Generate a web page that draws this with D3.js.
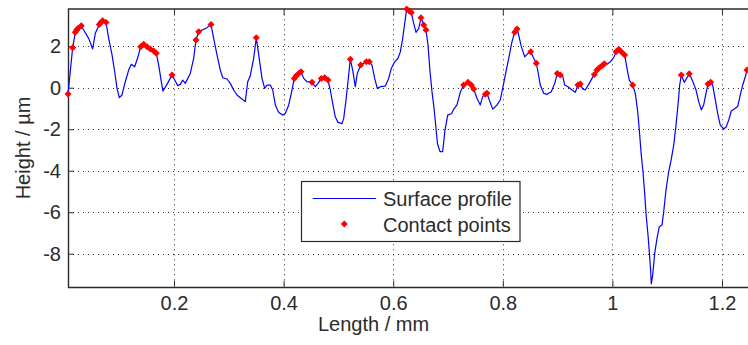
<!DOCTYPE html>
<html><head><meta charset="utf-8">
<script src="https://cdn.jsdelivr.net/npm/d3@7"></script>
<style>
body{margin:0;background:#fff}
svg{display:block}
text{font-family:"Liberation Sans",Arial,Helvetica,sans-serif;fill:#2b2b2b}
</style>
</head><body><svg id="c" width="748" height="345"></svg>
<script>
// ---- data (Length in mm, Height in µm) ----
const profileX = [0.0066,0.0151,0.0199,0.0248,0.0308,0.0352,0.0443,0.0516,0.0564,0.0637,0.0699,0.0759,0.0808,0.0869,0.0918,0.0960,0.1002,0.1051,0.1111,0.1173,
0.1221,0.1283,0.1343,0.1392,0.1447,0.1507,0.1568,0.1630,0.1677,0.1721,0.1768,0.1799,0.1872,0.1964,0.2013,0.2068,0.2115,0.2159,0.2206,0.2297,
0.2359,0.2401,0.2451,0.2511,0.2584,0.2675,0.2724,0.2785,0.2845,0.2889,0.2967,0.3027,0.3089,0.3150,0.3210,0.3301,0.3345,0.3392,0.3454,0.3502,
0.3546,0.3606,0.3655,0.3697,0.3757,0.3801,0.3849,0.3911,0.3984,0.4031,0.4093,0.4141,0.4195,0.4232,0.4276,0.4318,0.4367,0.4427,0.4518,0.4578,
0.4628,0.4688,0.4750,0.4810,0.4852,0.4901,0.4943,0.4993,0.5066,0.5097,0.5139,0.5175,0.5217,0.5261,0.5308,0.5345,0.5407,0.5462,0.5509,0.5564,
0.5613,0.5662,0.5710,0.5765,0.5856,0.5918,0.5965,0.6027,0.6088,0.6130,0.6173,0.6210,0.6246,0.6294,0.6330,0.6374,0.6416,0.6466,0.6507,0.6557,
0.6599,0.6635,0.6672,0.6708,0.6745,0.6772,0.6808,0.6854,0.6903,0.6945,0.6995,0.7068,0.7097,0.7164,0.7224,0.7286,0.7365,0.7425,0.7469,0.7529,
0.7589,0.7633,0.7681,0.7712,0.7754,0.7816,0.7894,0.7954,0.8004,0.8046,0.8108,0.8168,0.8217,0.8259,0.8290,0.8338,0.8400,0.8460,0.8509,0.8564,
0.8611,0.8642,0.8684,0.8746,0.8807,0.8885,0.8947,0.8995,0.9049,0.9093,0.9130,0.9190,0.9263,0.9323,0.9372,0.9414,0.9458,0.9505,0.9567,0.9628,
0.9670,0.9719,0.9761,0.9810,0.9852,0.9901,0.9962,1.0024,1.0066,1.0115,1.0162,1.0224,1.0266,1.0308,1.0370,1.0418,1.0462,1.0491,1.0527,1.0558,
1.0589,1.0613,1.0650,1.0673,1.0699,1.0710,1.0735,1.0772,1.0814,1.0856,1.0905,1.0936,1.0978,1.1027,1.1075,1.1119,1.1161,1.1197,1.1228,1.1257,
1.1312,1.1361,1.1403,1.1465,1.1526,1.1575,1.1622,1.1666,1.1708,1.1745,1.1794,1.1830,1.1878,1.1927,1.1969,1.2031,1.2078,1.2122,1.2170,1.2243,
1.2286,1.2334,1.2378,1.2425,1.2456];
const profileY = [-0.30,1.93,2.67,2.86,2.99,2.78,2.38,1.87,2.62,3.05,3.23,3.15,2.38,1.58,0.77,-0.03,-0.48,-0.35,0.29,0.85,
1.13,1.01,1.49,1.98,2.09,1.98,1.87,1.77,1.66,1.09,0.29,-0.16,0.16,0.61,0.37,0.10,0.16,0.37,0.21,0.69,
1.42,2.30,2.70,2.78,2.86,3.05,2.38,1.58,0.85,0.48,0.42,0.21,-0.11,-0.35,-0.48,-0.67,0.29,0.58,1.42,2.41,
1.58,0.45,-0.03,0.13,0.13,-0.11,-0.83,-1.19,-1.32,-1.24,-0.83,-0.27,0.45,0.58,0.69,0.77,0.45,0.29,0.26,0.05,
0.21,0.45,0.48,0.37,-0.11,-0.83,-1.40,-1.67,-1.73,-1.48,-0.59,0.29,1.37,0.85,0.05,0.69,1.09,1.18,1.25,1.25,
1.09,0.45,-0.03,0.05,0.08,0.45,0.93,1.25,1.42,1.73,2.38,3.10,3.79,3.70,3.63,3.10,2.67,2.86,3.37,3.02,
2.78,2.06,0.77,-0.19,-0.99,-1.70,-2.70,-3.08,-3.08,-2.04,-1.32,-1.24,-1.07,-0.83,-0.22,0.13,0.26,0.13,-0.06,-0.51,
-0.83,-0.43,-0.32,-0.27,-0.59,-1.03,-0.83,-0.59,0.05,0.61,1.42,2.22,2.67,2.83,2.54,1.98,1.49,1.66,1.73,1.42,
1.18,0.77,0.13,-0.27,-0.32,-0.19,0.21,0.69,0.61,0.56,0.13,0.05,-0.11,-0.22,0.13,0.18,-0.06,-0.11,0.16,0.45,
0.64,0.85,0.96,1.06,1.16,1.13,1.25,1.45,1.73,1.85,1.73,1.58,0.93,0.37,0.13,-0.27,-1.16,-2.04,-3.24,-4.05,
-5.09,-6.05,-7.10,-7.90,-8.87,-9.45,-9.03,-7.98,-7.26,-6.70,-6.62,-5.98,-4.93,-4.05,-3.44,-2.76,-1.80,-0.83,0.13,0.61,
0.26,0.48,0.67,0.32,-0.11,-0.67,-1.07,-0.83,-0.27,0.18,0.26,0.13,-0.59,-1.32,-1.80,-1.99,-1.88,-1.56,-1.12,-0.99,
-0.91,-0.35,0.13,0.53,0.85];
const contactX = [0.0066,0.0151,0.0199,0.0224,0.0248,0.0308,0.0637,0.0668,0.0699,0.0759,0.1392,0.1447,0.1507,0.1568,0.1630,0.1677,0.1964,0.2401,0.2451,0.2675,
0.3502,0.4195,0.4232,0.4276,0.4318,0.4518,0.4688,0.4750,0.4810,0.5217,0.5407,0.5509,0.5564,0.6246,0.6294,0.6330,0.6507,0.6557,0.6599,
0.7286,0.7365,0.7425,0.7469,0.7681,0.7712,0.8217,0.8259,0.8509,0.8611,0.8995,0.9049,0.9372,0.9414,0.9670,0.9719,0.9761,0.9810,0.9852,
1.0066,1.0115,1.0162,1.0224,1.0370,1.1257,1.1403,1.1745,1.1794,1.2456];
const contactY = [-0.30,1.93,2.67,2.78,2.86,2.99,3.05,3.15,3.23,3.15,1.98,2.09,1.98,1.87,1.77,1.66,0.61,2.30,2.70,3.05,
2.41,0.45,0.58,0.69,0.77,0.26,0.45,0.48,0.37,1.37,1.09,1.25,1.25,3.79,3.70,3.63,3.37,3.02,2.78,
0.13,0.26,0.13,-0.06,-0.32,-0.27,2.67,2.83,1.73,1.18,0.69,0.61,0.13,0.18,0.64,0.85,0.96,1.06,1.16,
1.73,1.85,1.73,1.58,0.13,0.61,0.67,0.18,0.26,0.85];
const xTickValues = [0.2,0.4,0.6,0.8,1,1.2];
const xTickLabels = ["0.2","0.4","0.6","0.8","1","1.2"];
const yTickValues = [-8,-6,-4,-2,0,2];
const yTickLabels = ["-8","-6","-4","-2","0","2"];
const seriesNames = ["Surface profile","Contact points"];
const xTitle = "Length / mm";
const yTitle = "Height / µm";
const xDomain = [0.00657, 1.2511];
const yDomain = [-9.59, 3.78];

// ---- layout ----
const L = 68, R = 750, T = 9.3, B = 286.7;
const svg = d3.select("#c");
const x = d3.scaleLinear().domain(xDomain).range([L, R]);
const y = d3.scaleLinear().domain(yDomain).range([B, T]);
const ink = "#2b2b2b";
const crisp = v => Math.round(v) + 0.5;

svg.append("rect").attr("width",748).attr("height",345).attr("fill","#fff");

// grid
const grid = svg.append("g").attr("stroke", ink).attr("stroke-width",1).attr("stroke-dasharray","1,4");
grid.selectAll("line.v").data(xTickValues).join("line").attr("class","v")
  .attr("x1", d=>crisp(x(d))).attr("x2", d=>crisp(x(d))).attr("y1", T).attr("y2", B);
grid.selectAll("line.h").data(yTickValues).join("line").attr("class","h")
  .attr("y1", d=>crisp(y(d))).attr("y2", d=>crisp(y(d))).attr("x1", L).attr("x2", R);

// axes
const fmtX = d => xTickLabels[xTickValues.indexOf(d)];
const fmtY = d => yTickLabels[yTickValues.indexOf(d)];
function styleAxis(g){
  g.select(".domain").remove();
  g.selectAll(".tick line").attr("stroke", ink).attr("stroke-width",1);
  g.selectAll(".tick text").attr("font-size",20).attr("fill",ink)
    .attr("font-family",'"Liberation Sans",Arial,Helvetica,sans-serif');
}
svg.append("g").attr("transform",`translate(0,${B})`)
  .call(d3.axisBottom(x).tickValues(xTickValues).tickFormat(fmtX).tickSizeInner(-6).tickSizeOuter(0).tickPadding(9))
  .call(styleAxis);
svg.append("g").attr("transform",`translate(0,${T})`)
  .call(d3.axisTop(x).tickValues(xTickValues).tickFormat(()=> "").tickSizeInner(-6).tickSizeOuter(0))
  .call(styleAxis);
svg.append("g").attr("transform",`translate(${L},0)`)
  .call(d3.axisLeft(y).tickValues(yTickValues).tickFormat(fmtY).tickSizeInner(-6).tickSizeOuter(0).tickPadding(7))
  .call(styleAxis);

// frame
svg.append("path").attr("d",`M${R},${crisp(T)-0.5}H${crisp(L)}V${crisp(B)}H${R}`)
  .attr("fill","none").attr("stroke",ink).attr("stroke-width",1.4);

// data
const plot = svg.append("g");
const profile = profileX.map((v,i)=>[v, profileY[i]]);
const contacts = contactX.map((v,i)=>[v, contactY[i]]);
plot.append("path").datum(profile)
  .attr("d", d3.line().x(d=>x(d[0])).y(d=>y(d[1])))
  .attr("fill","none").attr("stroke","#0000ff").attr("stroke-width",1.2).attr("stroke-linejoin","round");
const sym = d3.symbol().type(d3.symbolSquare).size(14);
plot.selectAll("path.cp").data(contacts).join("path").attr("class","cp")
  .attr("transform", d=>`translate(${x(d[0])},${y(d[1])}) rotate(45)`)
  .attr("d", sym).attr("fill","#ff0000").attr("stroke","#ff0000").attr("stroke-width",1.2);

// axis titles
svg.append("text").attr("x",373.5).attr("y",331).attr("text-anchor","middle").attr("font-size",20).text(xTitle);
svg.append("text").attr("transform","translate(29.5,148) rotate(-90)").attr("text-anchor","middle").attr("font-size",20).text(yTitle);

// legend
const lg = svg.append("g");
lg.append("rect").attr("x",301.5).attr("y",181.5).attr("width",218.5).attr("height",60)
  .attr("fill","#fff").attr("stroke",ink).attr("stroke-width",1.2);
lg.append("line").attr("x1",312.7).attr("x2",376).attr("y1",198.5).attr("y2",198.5)
  .attr("stroke","#0000ff").attr("stroke-width",1.2);
lg.append("path").attr("transform","translate(344.3,224) rotate(45)").attr("d",sym)
  .attr("fill","#ff0000").attr("stroke","#ff0000").attr("stroke-width",1.2);
lg.selectAll("text").data(seriesNames).join("text")
  .attr("x",383).attr("y",(d,i)=>205.5+i*26).attr("font-size",20).text(d=>d);
</script>
</body></html>
